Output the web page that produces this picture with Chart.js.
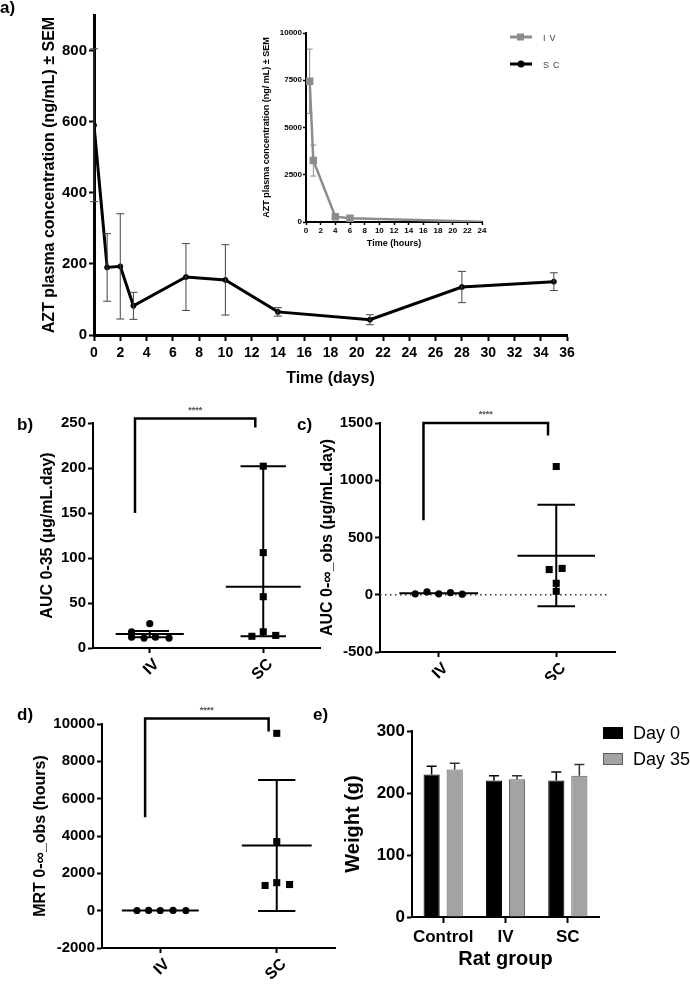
<!DOCTYPE html>
<html><head><meta charset="utf-8">
<script src="https://cdn.jsdelivr.net/npm/chart.js@4/dist/chart.umd.min.js"></script>
<style>
html,body{margin:0;padding:0;background:#fff}
body{width:690px;height:984px;position:relative;overflow:hidden;font-family:"Liberation Sans",Arial,sans-serif}
canvas{position:absolute;display:block}
.lbl{position:absolute;font-weight:bold;font-size:17px;line-height:17px;color:#000}
</style></head><body>
<canvas id="cA" width="600" height="400" style="left:0;top:0"></canvas>
<canvas id="cIn" width="250" height="240" style="left:250px;top:20px"></canvas>
<canvas id="cB" width="330" height="300" style="left:0;top:380px"></canvas>
<canvas id="cC" width="390" height="300" style="left:300px;top:380px"></canvas>
<canvas id="cD" width="340" height="304" style="left:0;top:680px"></canvas>
<canvas id="cE" width="360" height="304" style="left:330px;top:680px"></canvas>
<div class="lbl" style="left:0;top:-1px">a)</div>
<div class="lbl" style="left:17px;top:416px">b)</div>
<div class="lbl" style="left:297px;top:416px">c)</div>
<div class="lbl" style="left:17px;top:706px">d)</div>
<div class="lbl" style="left:313px;top:706px">e)</div>
<script>
// ================= DATA =================
// a) AZT plasma concentration, SC dosing (days)
const scDays = [0, 1, 2, 3, 7, 10, 14, 21, 28, 35];
const scConc = [590, 190, 193, 82, 163, 155, 65, 43, 135, 150];
const scSem  = [215, 95, 148, 38, 94, 99, 12, 14, 44, 25];
const aYTicks = [0, 200, 400, 600, 800];
const aXTicks = [0, 2, 4, 6, 8, 10, 12, 14, 16, 18, 20, 22, 24, 26, 28, 30, 32, 34, 36];
// a) inset: IV dosing (hours)
const ivHours = [0.5, 1, 4, 6, 24];
const ivConc  = [7450, 3250, 280, 200, 15];
const ivSem   = [1700, 820, 60, 50, 0];
const inYTicks = [0, 2500, 5000, 7500, 10000];
const inXTicks = [0, 2, 4, 6, 8, 10, 12, 14, 16, 18, 20, 22, 24];
const legendLabels = ['IV', 'SC'];

// b, c, d) groups
const groupLabels = ['IV', 'SC'];
const groupPos = [1, 2];
const bracketX = [0.87, 1.93];
const stars = '****';

// b) AUC 0-35
const bIV  = [18, 27, 12, 11, 12, 11];
const bIVx = [0.84, 1.0, 0.84, 0.95, 1.05, 1.17];
const bSC  = [202, 106, 57, 18, 13, 14];
const bSCx = [2, 2, 2, 2, 1.9, 2.11];
const bMean = [15.5, 68];
const bLow  = [12, 13];
const bHigh = [19, 202];
const bYTicks = [0, 50, 100, 150, 200, 250];
const bBracket = [150, 255, 245];

// c) AUC 0-inf_obs
const cIV  = [8, 25, 8, 18, 5];
const cIVx = [0.8, 0.9, 1.0, 1.1, 1.2];
const cSC  = [1120, 230, 220, 100, 30];
const cSCx = [2, 2.05, 1.94, 2, 2];
const cMean = [13, 340];
const cLow  = [5, -100];
const cHigh = [22, 785];
const cYTicks = [-500, 0, 500, 1000, 1500];
const cBracket = [650, 1500, 1390];

// d) MRT 0-inf_obs
const dIV  = [8, 12, 9, 11, 10];
const dIVx = [0.8, 0.9, 1.0, 1.11, 1.22];
const dSC  = [9500, 3700, 1500, 1350, 1400];
const dSCx = [2, 2, 2, 1.9, 2.11];
const dMean = [10, 3490];
const dLow  = [0, -20];
const dHigh = [20, 7000];
const dYTicks = [-2000, 0, 2000, 4000, 6000, 8000, 10000];
const dBracket = [5000, 10300, 9600];

// e) Weight
const eGroups = ['Control', 'IV', 'SC'];
const eSeries = ['Day 0', 'Day 35'];
const day0    = [230, 220, 220];
const day0Err = [13, 8, 14];
const day35    = [238, 222, 228];
const day35Err = [10, 6, 18];
const eYTicks = [0, 100, 200, 300];

// ================= HELPERS =================
const FF = '"Liberation Sans", Arial, sans-serif';
const bold = (size) => ({family: FF, size: size, weight: 'bold'});
Chart.defaults.font.family = FF;
Chart.defaults.color = '#000';
Chart.defaults.animation = false;
Chart.defaults.responsive = false;
Chart.defaults.devicePixelRatio = 1;
Chart.defaults.plugins.legend.display = false;
Chart.defaults.plugins.tooltip.enabled = false;

const pts = (xs, ys) => xs.map((x, i) => ({x: x, y: ys[i]}));
const setTicks = (values) => (s) => { s.ticks = values.map(v => ({value: v})); };

function linAxis(o) {
  return {
    type: 'linear', min: o.min, max: o.max, position: o.pos,
    afterBuildTicks: setTicks(o.ticks),
    afterFit: (s) => { if (o.pos === 'left') s.width = o.size; else s.height = o.size; },
    border: {display: true, color: '#000', width: o.border},
    grid: {display: true, drawOnChartArea: false, drawTicks: true, tickLength: o.tickLen,
           tickWidth: o.tickWidth || o.border, color: '#000'},
    ticks: {font: bold(o.font), color: '#000', padding: (o.pad === undefined ? 2 : o.pad),
            callback: o.cb || ((v) => String(v)), minRotation: o.rot || 0, maxRotation: o.rot || 0,
            labelOffset: o.labelOffset || 0, autoSkip: false},
    title: o.title ? {display: true, text: o.title, font: bold(o.titleFont), color: '#000', padding: 0}
                   : {display: false}
  };
}

const errorBarsPlugin = {
  id: 'errorBars',
  afterDatasetsDraw(chart) {
    const ctx = chart.ctx;
    chart.data.datasets.forEach((ds, i) => {
      if (!ds.errorBars) return;
      const meta = chart.getDatasetMeta(i);
      const ys = chart.scales[meta.yAxisID];
      const eb = ds.errorBars;
      ctx.save();
      ctx.strokeStyle = eb.color; ctx.lineWidth = eb.width;
      meta.data.forEach((el, j) => {
        const err = eb.values[j];
        if (!err) return;
        const raw = ds.data[j];
        const v = (typeof raw === 'object') ? raw.y : raw;
        const x = el.x;
        const yHi = ys.getPixelForValue(v + err);
        const yLo = eb.upOnly ? ys.getPixelForValue(v) : ys.getPixelForValue(v - err);
        ctx.beginPath();
        ctx.moveTo(x, yLo); ctx.lineTo(x, yHi);
        ctx.moveTo(x - eb.cap, yHi); ctx.lineTo(x + eb.cap, yHi);
        if (!eb.upOnly) { ctx.moveTo(x - eb.cap, yLo); ctx.lineTo(x + eb.cap, yLo); }
        ctx.stroke();
      });
      ctx.restore();
    });
  }
};

function makeSummary(pos, mean, low, high, meanHalf, capHalf) {
  return {
    id: 'summary',
    beforeDatasetsDraw(chart) {
      const ctx = chart.ctx, xs = chart.scales.x, ys = chart.scales.y;
      ctx.save(); ctx.strokeStyle = '#000'; ctx.lineWidth = 2;
      pos.forEach((g, k) => {
        const cx = xs.getPixelForValue(g);
        const ym = ys.getPixelForValue(mean[k]);
        const yl = ys.getPixelForValue(low[k]);
        const yh = ys.getPixelForValue(high[k]);
        const mh = xs.getPixelForValue(g + meanHalf[k]) - cx;
        const ch = xs.getPixelForValue(g + capHalf[k]) - cx;
        ctx.beginPath();
        ctx.moveTo(cx - mh, ym); ctx.lineTo(cx + mh, ym);
        ctx.moveTo(cx, yl); ctx.lineTo(cx, yh);
        ctx.moveTo(cx - ch, yl); ctx.lineTo(cx + ch, yl);
        ctx.moveTo(cx - ch, yh); ctx.lineTo(cx + ch, yh);
        ctx.stroke();
      });
      ctx.restore();
    }
  };
}

function makeStars(text, bx, topVal) {
  return {
    id: 'stars',
    afterDraw(chart) {
      const ctx = chart.ctx, xs = chart.scales.x, ys = chart.scales.y;
      const x = (xs.getPixelForValue(bx[0]) + xs.getPixelForValue(bx[1])) / 2;
      const y = ys.getPixelForValue(topVal) - 8;
      ctx.save();
      ctx.font = 'bold 9px ' + FF; ctx.fillStyle = '#555';
      ctx.textAlign = 'center'; ctx.textBaseline = 'middle';
      ctx.fillText(text, x, y);
      ctx.restore();
    }
  };
}

function bracketDataset(bx, br) {
  return {
    data: [{x: bx[0], y: br[0]}, {x: bx[0], y: br[1]}, {x: bx[1], y: br[1]}, {x: bx[1], y: br[2]}],
    showLine: true, borderColor: '#000', borderWidth: 2.5, pointRadius: 0, clip: false,
    borderJoinStyle: 'miter'
  };
}

function groupScatter(id, pad, yOpts, series, plugins, extra) {
  const datasets = [
    {label: groupLabels[0], data: series.iv, pointStyle: 'circle', pointRadius: 3.6,
     backgroundColor: '#000', borderColor: '#000', borderWidth: 0},
    {label: groupLabels[1], data: series.sc, pointStyle: 'rect', pointRadius: 5,
     backgroundColor: '#000', borderColor: '#000', borderWidth: 0},
    bracketDataset(bracketX, series.bracket)
  ].concat(extra || []);
  return new Chart(document.getElementById(id), {
    type: 'scatter',
    data: {datasets: datasets},
    options: {
      layout: {padding: pad},
      scales: {
        x: linAxis({pos: 'bottom', min: 0.5, max: 2.5, ticks: groupPos, size: series.xSize, border: 2,
                    tickLen: 5, font: 16, pad: 2, rot: 45, labelOffset: 7,
                    cb: (v) => groupLabels[groupPos.indexOf(v)]}),
        y: linAxis(yOpts)
      }
    },
    plugins: plugins
  });
}

// ================= a) main =================
const legendAPlugin = {
  id: 'legendA',
  afterDraw(chart) {
    const ctx = chart.ctx;
    const items = [
      {label: legendLabels[0], color: '#8c8c8c', style: 'rect', y: 37},
      {label: legendLabels[1], color: '#000', style: 'circle', y: 64}
    ];
    ctx.save();
    items.forEach(it => {
      ctx.strokeStyle = it.color; ctx.fillStyle = it.color; ctx.lineWidth = 3;
      ctx.beginPath(); ctx.moveTo(510, it.y); ctx.lineTo(532, it.y); ctx.stroke();
      if (it.style === 'rect') ctx.fillRect(517, it.y - 3.5, 7, 7);
      else { ctx.beginPath(); ctx.arc(521, it.y, 3.5, 0, Math.PI * 2); ctx.fill(); }
      ctx.font = '9px ' + FF; ctx.fillStyle = '#444';
      ctx.letterSpacing = '4px';
      ctx.textBaseline = 'middle'; ctx.textAlign = 'left';
      ctx.fillText(it.label, 543, it.y + 2);
    });
    ctx.restore();
  }
};

new Chart(document.getElementById('cA'), {
  type: 'scatter',
  data: {datasets: [{
    label: legendLabels[1], data: pts(scDays, scConc), showLine: true,
    borderColor: '#000', backgroundColor: '#000', borderWidth: 3,
    pointStyle: 'circle', pointRadius: 2.5, pointBorderWidth: 1,
    errorBars: {values: scSem, color: '#444', width: 1, cap: 4}
  }]},
  options: {
    layout: {padding: {left: 40, top: 15, right: 33, bottom: 12}},
    scales: {
      x: linAxis({pos: 'bottom', min: 0, max: 36, ticks: aXTicks, size: 53, border: 3, tickLen: 6,
                  tickWidth: 2, font: 14, pad: 4, title: 'Time (days)', titleFont: 16}),
      y: linAxis({pos: 'left', min: 0, max: 900, ticks: aYTicks, size: 54, border: 3, tickLen: 5,
                  tickWidth: 2, font: 15, pad: 2,
                  title: 'AZT plasma concentration (ng/mL) ± SEM', titleFont: 16})
    }
  },
  plugins: [errorBarsPlugin, legendAPlugin]
});

// ================= a) inset =================
new Chart(document.getElementById('cIn'), {
  type: 'scatter',
  data: {datasets: [{
    label: legendLabels[0], data: pts(ivHours, ivConc), showLine: true,
    borderColor: '#8c8c8c', backgroundColor: '#8c8c8c', borderWidth: 2.5,
    pointStyle: 'rect', pointRadius: (c) => (ivSem[c.dataIndex] > 0 ? 3.5 : 0),
    errorBars: {values: ivSem, color: '#8c8c8c', width: 1, cap: 3}
  }]},
  options: {
    layout: {padding: {left: 11, top: 13, right: 18, bottom: 11}},
    scales: {
      x: linAxis({pos: 'bottom', min: 0, max: 24, ticks: inXTicks, size: 27, border: 2, tickLen: 3,
                  tickWidth: 1.5, font: 8, pad: 1, title: 'Time (hours)', titleFont: 9}),
      y: linAxis({pos: 'left', min: 0, max: 10000, ticks: inYTicks, size: 45, border: 2, tickLen: 3,
                  tickWidth: 1.5, font: 8, pad: 1,
                  title: 'AZT plasma concentration (ng/ mL) ± SEM', titleFont: 9})
    }
  },
  plugins: [errorBarsPlugin]
});

// ================= b) =================
groupScatter('cB', {left: 38, top: 43, right: 10, bottom: 0},
  {pos: 'left', min: 0, max: 250, ticks: bYTicks, size: 55, border: 2, tickLen: 5, font: 15,
   title: 'AUC 0-35 (μg/mL.day)', titleFont: 16},
  {iv: pts(bIVx, bIV), sc: pts(bSCx, bSC), bracket: bBracket, xSize: 32},
  [makeSummary(groupPos, bMean, bLow, bHigh, [0.3, 0.33], [0.17, 0.2]),
   makeStars(stars, bracketX, bBracket[1])]);

// ================= c) =================
groupScatter('cC', {left: 18, top: 43, right: 75, bottom: 0},
  {pos: 'left', min: -500, max: 1500, ticks: cYTicks, size: 62, border: 2, tickLen: 5, font: 15,
   title: 'AUC 0-∞_obs (μg/mL.day)', titleFont: 16},
  {iv: pts(cIVx, cIV), sc: pts(cSCx, cSC), bracket: cBracket, xSize: 28},
  [makeSummary(groupPos, cMean, cLow, cHigh, [0.335, 0.33], [0.0, 0.16]),
   makeStars(stars, bracketX, cBracket[1])],
  [{data: [{x: 0.5, y: 0}, {x: 2.45, y: 0}], showLine: true, borderColor: '#333', borderWidth: 1.5,
    borderDash: [1.5, 3.5], pointRadius: 0}]);

// ================= d) =================
groupScatter('cD', {left: 31, top: 44, right: 2, bottom: 0},
  {pos: 'left', min: -2000, max: 10000, ticks: dYTicks, size: 71, border: 2, tickLen: 5, font: 15,
   title: 'MRT 0-∞_obs (hours)', titleFont: 16},
  {iv: pts(dIVx, dIV), sc: pts(dSCx, dSC), bracket: dBracket, xSize: 36},
  [makeSummary(groupPos, dMean, dLow, dHigh, [0.33, 0.3], [0.0, 0.16]),
   makeStars(stars, bracketX, dBracket[1])]);

// ================= e) =================
const legendEPlugin = {
  id: 'legendE',
  afterDraw(chart) {
    const ctx = chart.ctx;
    ctx.save();
    chart.data.datasets.forEach((ds, i) => {
      const y = 47 + i * 26;
      ctx.fillStyle = ds.backgroundColor; ctx.fillRect(273, y, 20, 12);
      ctx.strokeStyle = ds.borderColor; ctx.lineWidth = 1; ctx.strokeRect(273.5, y + 0.5, 19, 11);
      ctx.fillStyle = '#000'; ctx.font = '18px ' + FF;
      ctx.textBaseline = 'middle'; ctx.textAlign = 'left';
      ctx.fillText(ds.label, 303, y + 7);
    });
    ctx.restore();
  }
};

new Chart(document.getElementById('cE'), {
  type: 'bar',
  data: {labels: eGroups, datasets: [
    {label: eSeries[0], data: day0, backgroundColor: '#000', borderColor: '#000', borderWidth: 1,
     categoryPercentage: 0.74, barPercentage: 0.7,
     errorBars: {values: day0Err, color: '#000', width: 1.5, cap: 5, upOnly: true}},
    {label: eSeries[1], data: day35, backgroundColor: '#a3a3a3', borderColor: '#5a5a5a', borderWidth: 1,
     categoryPercentage: 0.74, barPercentage: 0.7,
     errorBars: {values: day35Err, color: '#333', width: 1.5, cap: 5, upOnly: true}}
  ]},
  options: {
    layout: {padding: {left: 11, top: 51, right: 91, bottom: 13}},
    scales: {
      x: {type: 'category', position: 'bottom', offset: true,
          afterFit: (s) => { s.height = 54; },
          border: {display: true, color: '#000', width: 2},
          grid: {display: true, drawOnChartArea: false, offset: false, tickLength: 6, tickWidth: 2, color: '#000'},
          ticks: {font: bold(17), color: '#000', padding: 4, minRotation: 0, maxRotation: 0, autoSkip: false},
          title: {display: true, text: 'Rat group', font: bold(20), color: '#000', padding: 0}},
      y: linAxis({pos: 'left', min: 0, max: 300, ticks: eYTicks, size: 71, border: 2, tickLen: 5, font: 17,
                  title: 'Weight (g)', titleFont: 20})
    }
  },
  plugins: [errorBarsPlugin, legendEPlugin]
});
</script>
</body></html>
